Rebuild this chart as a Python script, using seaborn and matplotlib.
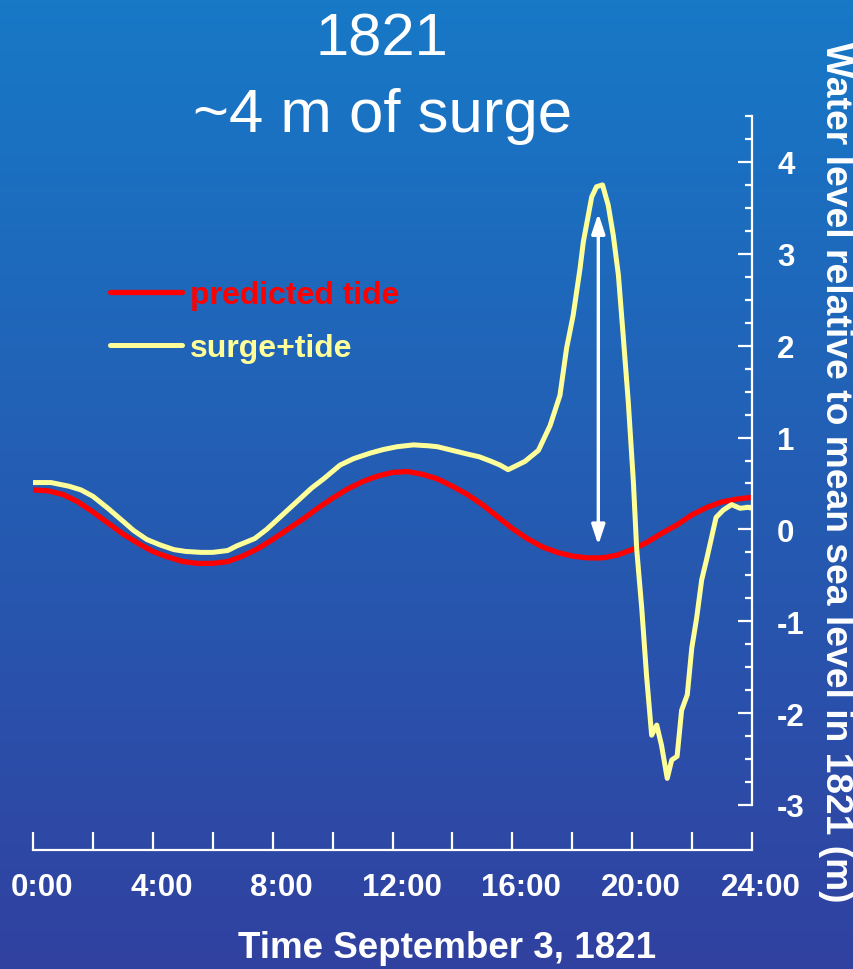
import numpy as np
import matplotlib
matplotlib.use("Agg")
import matplotlib.pyplot as plt
import matplotlib.ticker as mticker
from matplotlib.colors import LinearSegmentedColormap
from matplotlib.transforms import ScaledTranslation
import seaborn as sns

# Predicted astronomical tide, 3 September 1821 (hours, metres)
tide_hours = [0.0, 0.5, 1.0, 1.5, 2.0, 2.5, 3.0, 3.5, 4.0, 4.5, 5.0, 5.5, 6.0,
              6.5, 7.0, 7.5, 8.0, 8.5, 9.0, 9.5, 10.0, 10.5, 11.0, 11.5, 12.0,
              12.5, 13.0, 13.5, 14.0, 14.5, 15.0, 15.5, 16.0, 16.5, 17.0, 17.5,
              18.0, 18.5, 19.0, 19.5, 20.0, 20.5, 21.0, 21.5, 22.0, 22.5, 23.0,
              23.5, 24.0]
tide_level = [0.43, 0.42, 0.38, 0.30, 0.19, 0.07, -0.05, -0.15, -0.24, -0.30,
              -0.35, -0.37, -0.37, -0.35, -0.29, -0.21, -0.11, 0.00, 0.11, 0.23,
              0.34, 0.44, 0.52, 0.58, 0.62, 0.63, 0.60, 0.55, 0.47, 0.38, 0.27,
              0.14, 0.01, -0.10, -0.19, -0.25, -0.29, -0.31, -0.31, -0.28, -0.22,
              -0.14, -0.04, 0.05, 0.16, 0.24, 0.30, 0.33, 0.35]

# Observed water level (storm surge plus tide)
surge_hours = [0.0, 0.6, 1.2, 1.6, 2.0, 2.5, 3.0, 3.35, 3.8, 4.25, 4.7, 5.1,
               5.6, 6.0, 6.5, 6.8, 7.4, 7.8, 8.2, 8.8, 9.3, 9.7, 10.25, 10.7,
               11.25, 11.7, 12.15, 12.7, 13.2, 13.5, 14.0, 14.5, 14.9, 15.3,
               15.59, 15.86, 16.42, 16.87, 17.26, 17.59, 17.81, 18.03, 18.26,
               18.37, 18.65, 18.81, 19.01, 19.2, 19.37, 19.54, 19.7, 19.87,
               20.04, 20.15, 20.32, 20.48, 20.65, 20.82, 20.98, 21.17, 21.32,
               21.5, 21.65, 21.84, 21.99, 22.15, 22.32, 22.49, 22.8, 23.04,
               23.32, 23.6, 23.87, 24.0]
surge_level = [0.51, 0.51, 0.47, 0.43, 0.36, 0.23, 0.09, -0.01, -0.11, -0.17,
               -0.22, -0.24, -0.25, -0.25, -0.23, -0.18, -0.10, 0.00, 0.12,
               0.30, 0.45, 0.55, 0.70, 0.77, 0.83, 0.87, 0.90, 0.92, 0.91, 0.90,
               0.86, 0.82, 0.79, 0.74, 0.70, 0.65, 0.74, 0.86, 1.13, 1.46, 1.97,
               2.33, 2.84, 3.13, 3.62, 3.73, 3.75, 3.53, 3.20, 2.77, 2.11, 1.39,
               0.52, -0.21, -0.86, -1.59, -2.24, -2.13, -2.35, -2.71, -2.51,
               -2.47, -1.97, -1.80, -1.29, -0.97, -0.55, -0.32, 0.13, 0.21, 0.27,
               0.23, 0.24, 0.23]

x_tick_hours = [0, 2, 4, 6, 8, 10, 12, 14, 16, 18, 20, 22, 24]
x_tick_labels = ["0:00", "", "4:00", "", "8:00", "", "12:00", "", "16:00", "",
                 "20:00", "", "24:00"]
y_tick_values = [-3, -2, -1, 0, 1, 2, 3, 4]
y_tick_labels = ["-3", "-2", "-1", "0", "1", "2", "3", "4"]

# Surge height marker: from the predicted low tide up to the observed peak
surge_arrow_hour = 18.87
surge_arrow_bottom = -0.17
surge_arrow_top = 3.44

TIDE_RED = "#FF0000"
SURGE_YELLOW = "#FFFF99"

sns.set_style("ticks")
plt.rcParams["font.family"] = ["Liberation Sans", "DejaVu Sans"]

W, H = 854, 970
fig = plt.figure(figsize=(W / 100, H / 100), dpi=100)

# Blue vertical gradient backdrop
bg = fig.add_axes([0, 0, 1, 1], zorder=0)
grad = np.linspace(0, 1, 256).reshape(-1, 1)
cmap = LinearSegmentedColormap.from_list("sky", ["#1779C7", "#3141A0"])
bg.imshow(grad, aspect="auto", cmap=cmap, extent=[0, 1, 0, 1], origin="upper")
bg.set_axis_off()

left, right, top, bottom = 33, 752, 117, 806
ax = fig.add_axes([left / W, 1 - bottom / H, (right - left) / W, (bottom - top) / H],
                  zorder=1)
ax.patch.set_alpha(0)

sns.lineplot(x=tide_hours, y=tide_level, ax=ax, color=TIDE_RED, linewidth=3.8,
             label="predicted tide")
sns.lineplot(x=surge_hours, y=surge_level, ax=ax, color=SURGE_YELLOW,
             linewidth=3.6, label="surge+tide")

ax.annotate("", xy=(surge_arrow_hour, surge_arrow_top),
            xytext=(surge_arrow_hour, surge_arrow_bottom),
            arrowprops=dict(arrowstyle="<|-|>,head_length=1.2,head_width=0.4",
                            color="white", lw=2.4, shrinkA=0, shrinkB=0,
                            mutation_scale=10))

ax.set_xlim(0, 24)
ax.set_ylim(-3, 4.5)
ax.set_xlabel("")
ax.set_ylabel("")

# Axes: right-hand level scale, detached time axis below
for side in ["left", "top"]:
    ax.spines[side].set_visible(False)
for side in ["right", "bottom"]:
    ax.spines[side].set_color("white")
    ax.spines[side].set_linewidth(1.6)
ax.spines["bottom"].set_position(("outward", 32.4))

ax.yaxis.tick_right()
ax.yaxis.set_major_locator(mticker.FixedLocator(y_tick_values))
ax.yaxis.set_major_formatter(mticker.FixedFormatter(y_tick_labels))
ax.yaxis.set_minor_locator(mticker.MultipleLocator(0.25))
ax.tick_params(axis="y", which="major", direction="in", length=10, width=1.6,
               color="white", labelcolor="white", labelsize=22.5, pad=18)
ax.tick_params(axis="y", which="minor", direction="in", length=5, width=1.6,
               color="white")

ax.set_xticks(x_tick_hours)
ax.set_xticklabels(x_tick_labels)
ax.xaxis.set_minor_locator(mticker.NullLocator())
ax.tick_params(axis="x", which="major", direction="in", length=13, width=1.6,
               color="white", labelcolor="white", labelsize=22.5, pad=15.5)

for lab in ax.get_xticklabels() + ax.get_yticklabels():
    lab.set_fontweight("bold")
shift = ScaledTranslation(9 / 100, 0, fig.dpi_scale_trans)
for lab in ax.get_xticklabels():
    lab.set_transform(lab.get_transform() + shift)

leg = ax.legend(loc="center left", bbox_to_anchor=(110 / W, 1 - 322.5 / H),
                bbox_transform=fig.transFigure, frameon=False, borderpad=0,
                borderaxespad=0, handlelength=2.25, handletextpad=0.25,
                labelspacing=0.73, prop={"weight": "bold", "size": 23})
for txt, col in zip(leg.get_texts(), [TIDE_RED, SURGE_YELLOW]):
    txt.set_color(col)

# Titles and axis captions
fig.text(382 / W, 1 - 55 / H, "1821", ha="center", va="baseline",
         color="white", fontsize=43)
fig.text(383 / W, 1 - 131.7 / H, "~4 m of surge", ha="center", va="baseline",
         color="white", fontsize=44.5)
fig.text(835 / W, 1 - 472 / H, "Water level relative to mean sea level in 1821 (m)",
         rotation=270, ha="center", va="center", color="white", fontsize=26.8,
         fontweight="bold")
fig.text(447 / W, 1 - 958 / H, "Time September 3, 1821", ha="center",
         va="baseline", color="white", fontsize=26.5, fontweight="bold")

fig.savefig("out.png", dpi=100)
